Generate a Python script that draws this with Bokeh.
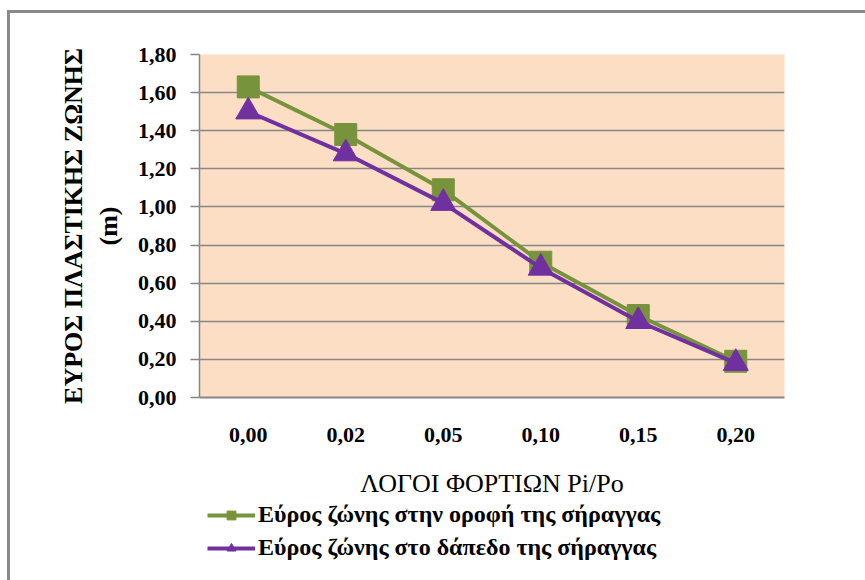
from bokeh.plotting import figure
from bokeh.layouts import column
from bokeh.models import (FactorRange, Range1d, FixedTicker, CustomJSTickFormatter,
                          Legend, LegendItem)
from bokeh.embed import file_html
from bokeh.resources import INLINE

# ---- data ----
categories = ["0,00", "0,02", "0,05", "0,10", "0,15", "0,20"]
roof_width = [1.63, 1.38, 1.09, 0.71, 0.43, 0.19]
floor_width = [1.50, 1.28, 1.02, 0.68, 0.40, 0.18]
y_ticks = [0.0, 0.2, 0.4, 0.6, 0.8, 1.0, 1.2, 1.4, 1.6, 1.8]
roof_label = "Εύρος ζώνης στην οροφή της σήραγγας"
floor_label = "Εύρος ζώνης στο δάπεδο της σήραγγας"
x_title = "ΛΟΓΟΙ ΦΟΡΤΙΩΝ Pi/Po"
y_title = "ΕΥΡΟΣ ΠΛΑΣΤΙΚΗΣ ΖΩΝΗΣ\n(m)"

FONT = "Liberation Serif"
GRID = "#868686"
GREEN = "#77933C"
PURPLE = "#7030A0"
BG = "#FCDEC4"
BORDER = "3px solid #898989"

OX, OY = 10, 13  # offset of the figures inside the outer chart border
TOP, FRAME_H, BOTTOM = 41, 340, 104
LEFT, RIGHT = 199 - OX, 84
W = 865 - OX

p = figure(frame_width=582, frame_height=FRAME_H, x_range=FactorRange(*categories),
           y_range=Range1d(0, 1.8), output_backend="svg", toolbar_location=None,
           min_border_left=LEFT, min_border_right=RIGHT, min_border_top=TOP,
           min_border_bottom=BOTTOM)
p.background_fill_color = BG
p.border_fill_color = "white"
p.outline_line_color = None
p.margin = (OY - 3, 0, 0, OX - 3)
p.styles = {"border-left": BORDER, "border-top": BORDER}

# grid
p.xgrid.grid_line_color = None
p.ygrid.grid_line_color = GRID
p.ygrid.grid_line_width = 1.3

# y axis
p.yaxis.ticker = FixedTicker(ticks=y_ticks)
p.yaxis.formatter = CustomJSTickFormatter(code="return tick.toFixed(2).replace('.', ',');")
p.yaxis.axis_line_color = GRID
p.yaxis.axis_line_width = 1.5
p.yaxis.major_tick_line_color = GRID
p.yaxis.major_tick_line_width = 1.5
p.yaxis.major_tick_out = 9
p.yaxis.major_tick_in = 0
p.yaxis.minor_tick_line_color = None
p.yaxis.major_label_standoff = 14
p.yaxis.major_label_text_font = FONT
p.yaxis.major_label_text_font_style = "bold"
p.yaxis.major_label_text_font_size = "22px"
p.yaxis.major_label_text_color = "black"
p.yaxis.axis_label = y_title
p.yaxis.axis_label_text_font = FONT
p.yaxis.axis_label_text_font_style = "bold"
p.yaxis.axis_label_text_font_size = "26px"
p.yaxis.axis_label_text_color = "black"
p.yaxis.axis_label_standoff = 12

# x axis
p.xaxis.axis_line_color = GRID
p.xaxis.axis_line_width = 2
p.xaxis.major_tick_line_color = None
p.xaxis.major_tick_out = 0
p.xaxis.major_tick_in = 0
p.xaxis.minor_tick_line_color = None
p.xaxis.major_label_standoff = 30
p.xaxis.major_label_text_font = FONT
p.xaxis.major_label_text_font_style = "bold"
p.xaxis.major_label_text_font_size = "22px"
p.xaxis.major_label_text_color = "black"
p.xaxis.axis_label = x_title
p.xaxis.axis_label_text_font = FONT
p.xaxis.axis_label_text_font_style = "normal"
p.xaxis.axis_label_text_font_size = "26px"
p.xaxis.axis_label_text_color = "black"
p.xaxis.axis_label_standoff = 24

# series
p.line(categories, roof_width, line_color=GREEN, line_width=4)
p.scatter(categories, roof_width, marker="square", size=22,
          fill_color=GREEN, line_color=GREEN)
p.line(categories, floor_width, line_color=PURPLE, line_width=4)
p.scatter(categories, floor_width, marker="triangle", size=25,
          fill_color=PURPLE, line_color=PURPLE)

# ---- legend strip below the chart (same series; its view range keeps them hidden) ----
LEG_H = 580 - OY - TOP - FRAME_H - BOTTOM
q = figure(width=W, height=LEG_H, x_range=FactorRange(*categories),
           y_range=Range1d(-10, -9), output_backend="svg", toolbar_location=None,
           min_border_left=LEFT, min_border_right=RIGHT, min_border_top=0,
           min_border_bottom=0)
q.axis.visible = False
q.grid.visible = False
q.background_fill_color = "white"
q.border_fill_color = "white"
q.outline_line_color = None
q.margin = (0, 0, 0, OX - 3)
q.styles = {"border-left": BORDER}

ql1 = q.line(categories, roof_width, line_color=GREEN, line_width=4)
qs1 = q.scatter(categories, roof_width, marker="square", size=14,
                fill_color=GREEN, line_color=GREEN)
ql2 = q.line(categories, floor_width, line_color=PURPLE, line_width=4)
qs2 = q.scatter(categories, floor_width, marker="triangle", size=17,
                fill_color=PURPLE, line_color=PURPLE)

legend = Legend(items=[LegendItem(label=roof_label, renderers=[ql1, qs1]),
                       LegendItem(label=floor_label, renderers=[ql2, qs2])],
                location=(8 - 199 + LEFT + OX, 19))
legend.background_fill_alpha = 0
legend.border_line_color = None
legend.padding = 0
legend.margin = 0
legend.spacing = 6
legend.glyph_width = 48
legend.glyph_height = 22
legend.label_height = 22
legend.label_standoff = 3
legend.label_text_font = FONT
legend.label_text_font_style = "bold"
legend.label_text_font_size = "24px"
legend.label_text_color = "black"
q.add_layout(legend, "center")

layout = column(p, q, spacing=0)
open("out.html", "w").write(file_html(layout, INLINE))
